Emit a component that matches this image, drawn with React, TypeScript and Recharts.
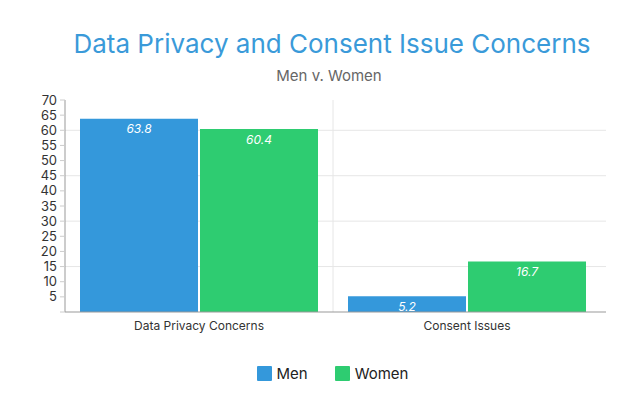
import React from 'react';
import { BarChart, Bar, XAxis, YAxis, Legend, LabelList, CartesianGrid, ReferenceLine } from 'recharts';

const categories = ['Data Privacy Concerns', 'Consent Issues'];
const menValues = [63.8, 5.2];
const womenValues = [60.4, 16.7];
const yTicks = [0, 5, 10, 15, 20, 25, 30, 35, 40, 45, 50, 55, 60, 65, 70];
const gridValues = [15, 30, 45, 60];
const categoryBoundary = categories[1];
const seriesNames = ['Men', 'Women'];
const seriesColors = ['#3498db', '#2ecc71'];

const data = categories.map((c, i) => ({ name: c, Men: menValues[i], Women: womenValues[i] }));

const FONT = 'Inter, "Noto Sans", sans-serif';

const renderLegend = () => (
  <div style={{ display: 'flex', justifyContent: 'center', gap: 27, fontFamily: FONT, fontSize: 15, color: '#222', paddingLeft: 54 }}>
    {seriesNames.map((n, i) => (
      <div key={n} style={{ display: 'flex', alignItems: 'center' }}>
        <span style={{ display: 'inline-block', width: 15, height: 15, background: seriesColors[i], borderRadius: 1, marginRight: 5 }} />
        <span>{n}</span>
      </div>
    ))}
  </div>
);

export default function App() {
  return (
    <div style={{ position: 'absolute', left: 0, top: 0, width: 642, height: 404, background: '#fff' }}>
      <div style={{ position: 'absolute', left: 0, width: 664, top: 28, textAlign: 'center', fontFamily: FONT, fontSize: 26, color: '#3a9ad9' }}>
        Data Privacy and Consent Issue Concerns
      </div>
      <div style={{ position: 'absolute', left: 0, width: 658, top: 66, textAlign: 'center', fontFamily: FONT, fontSize: 15, color: '#666' }}>
        Men v. Women
      </div>
      <BarChart
        width={642}
        height={404}
        data={data}
        margin={{ top: 100, right: 36, bottom: 22, left: 5 }}
        barGap={2}
        barCategoryGap={15}
      >
        <CartesianGrid stroke="#e6e6e6" horizontalValues={gridValues} vertical={false} />
        <XAxis
          dataKey="name"
          axisLine={{ stroke: '#999' }}
          tickLine={false}
          tickSize={6}
          tickMargin={3}
          padding={{ left: 0, right: 5 }}
          tick={{ fontFamily: FONT, fontSize: 12, fill: '#333' }}
          height={30}
        />
        <YAxis
          domain={[0, 70]}
          ticks={yTicks}
          interval={0}
          width={60}
          axisLine={{ stroke: '#999' }}
          tickLine={{ stroke: '#ccc' }}
          tickSize={5}
          tickMargin={3}
          tickFormatter={(v: number) => (v === 0 ? '' : String(v))}
          tick={{ fontFamily: FONT, fontSize: 13, fill: '#333' }}
        />
        <ReferenceLine x={categoryBoundary} position="start" stroke="#e6e6e6" />
        <Legend verticalAlign="bottom" height={40} content={renderLegend} wrapperStyle={{ top: 364, bottom: 'auto' }} />
        <Bar dataKey="Men" fill={seriesColors[0]} isAnimationActive={false}>
          <LabelList dataKey="Men" position="insideTop" offset={6} fill="#fff" fontStyle="italic" fontSize={12} fontFamily={FONT} />
        </Bar>
        <Bar dataKey="Women" fill={seriesColors[1]} isAnimationActive={false}>
          <LabelList dataKey="Women" position="insideTop" offset={6} fill="#fff" fontStyle="italic" fontSize={12} fontFamily={FONT} />
        </Bar>
      </BarChart>
    </div>
  );
}
